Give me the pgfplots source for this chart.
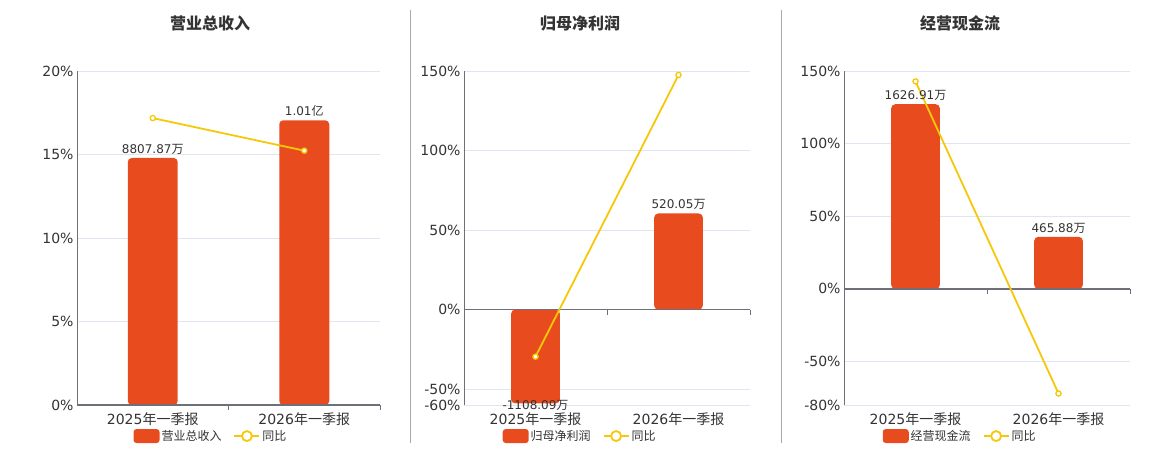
\documentclass[border=0pt]{standalone}
\usepackage{fontspec}
\setmainfont{DejaVu Sans}
\newfontfamily\cjk{Noto Sans CJK SC}
\usepackage{pgfplots}
\pgfplotsset{compat=1.18}

\definecolor{barc}{RGB}{232,76,30}
\definecolor{linec}{RGB}{245,200,10}
\definecolor{gridc}{RGB}{224,230,241}
\definecolor{axisc}{RGB}{110,112,121}
\definecolor{txt}{RGB}{51,51,51}
\definecolor{sepc}{RGB}{170,170,170}
\newcommand{\W}{{\cjk 万}}
\newcommand{\Y}{{\cjk 亿}}

\pgfplotsset{
  panel/.style={
    scale only axis, height=334bp, anchor=south west,
    xmin=-0.5, xmax=1.5, xtick={0,1},
    xticklabels={2025{\cjk 年一季报},2026{\cjk 年一季报}},
    axis x line*=bottom, axis y line*=left,
    x axis line style={draw=none},
    y axis line style={draw=axisc, line width=1bp, -},
    major tick length=0pt,
    ymajorgrids, grid style={gridc, line width=0.8bp},
    tick label style={font=\fontsize{14bp}{16bp}\selectfont, text=txt},
    xticklabel style={yshift=-4bp},
    legend style={draw=none, fill=none, legend columns=2,
      font=\fontsize{12bp}{14bp}\selectfont, text=txt,
      /tikz/every even column/.append style={column sep=10bp},
      anchor=center},
    clip=false,
  },
  barplot/.style={ybar, bar width=#1, fill=barc, draw=none, rounded corners=4bp,
    point meta=explicit symbolic, nodes near coords,
    every node near coord/.append style={font=\fontsize{12bp}{14bp}\selectfont, text=txt},
    legend image code/.code={
      \draw[fill=barc, draw=none, rounded corners=3bp] (0bp,-7bp) rectangle (26bp,7bp);}
  },
  lineplot/.style={linec, line width=1.8bp, mark=*, mark size=2.6bp,
    mark options={fill=white, draw=linec, line width=1.3bp},
    legend image code/.code={
      \draw[linec, line width=1.8bp] (0bp,0bp) -- (25bp,0bp);
      \draw[linec, fill=white, line width=1.8bp] (12.5bp,0bp) circle (5bp);}
  },
}

\begin{document}
\begin{tikzpicture}[x=1bp, y=1bp]
\path (0,0) rectangle (1160,450);

% separators
\draw[sepc, line width=1bp] (410,7) -- (410,440);
\draw[sepc, line width=1bp] (781,7) -- (781,440);

% titles
\node[font=\fontsize{16bp}{18bp}\selectfont\cjk\bfseries, text=txt] at (210,427) {营业总收入};
\node[font=\fontsize{16bp}{18bp}\selectfont\cjk\bfseries, text=txt] at (580,427) {归母净利润};
\node[font=\fontsize{16bp}{18bp}\selectfont\cjk\bfseries, text=txt] at (960,427) {经营现金流};

% panel 1
\begin{axis}[panel, at={(77bp,45bp)}, width=303bp,
  ymin=0, ymax=20, ytick={0,5,10,15,20},
  yticklabels={0\%,5\%,10\%,15\%,20\%},
  legend style={at={(0.442,-0.093)}}]
\addplot[barplot=0.33] coordinates {(0,14.79) [8807.87\W] (1,17.05) [1.01\Y]};
\addlegendentry{\cjk 营业总收入}
\draw[axisc, line width=1.5bp] (axis cs:-0.5,0) -- (axis cs:1.5,0);
\draw[axisc, line width=1bp] (axis cs:0.5,0) -- ([yshift=-5bp]axis cs:0.5,0);
\draw[axisc, line width=1bp] (axis cs:1.5,0) -- ([yshift=-5bp]axis cs:1.5,0);
\addplot[lineplot] coordinates {(0,17.18) (1,15.23)};
\addlegendentry{\cjk 同比}
\end{axis}

% panel 2
\begin{axis}[panel, at={(464bp,45bp)}, width=286bp,
  ymin=-60, ymax=150, ytick={-60,-50,0,50,100,150},
  yticklabels={-60\%,-50\%,0\%,50\%,100\%,150\%},
  legend style={at={(0.406,-0.093)}}]
\addplot[barplot=0.34] coordinates {(1,60.4) [520.05\W]};
\addlegendentry{\cjk 归母净利润}
\addplot[barplot=0.34, forget plot,
  every node near coord/.append style={anchor=north, yshift=7bp}]
  coordinates {(0,-59) [-1108.09\W]};
\draw[axisc, line width=1.5bp] (axis cs:-0.5,0) -- (axis cs:1.5,0);
\draw[axisc, line width=1bp] (axis cs:0.5,0) -- ([yshift=-5bp]axis cs:0.5,0);
\draw[axisc, line width=1bp] (axis cs:1.5,0) -- ([yshift=-5bp]axis cs:1.5,0);
\addplot[lineplot] coordinates {(0,-29.6) (1,147.5)};
\addlegendentry{\cjk 同比}
\end{axis}

% panel 3
\begin{axis}[panel, at={(844bp,45bp)}, width=286bp,
  ymin=-80, ymax=150, ytick={-80,-50,0,50,100,150},
  yticklabels={-80\%,-50\%,0\%,50\%,100\%,150\%},
  legend style={at={(0.406,-0.093)}}]
\addplot[barplot=0.34] coordinates {(0,127.1) [1626.91\W] (1,35.8) [465.88\W]};
\addlegendentry{\cjk 经营现金流}
\draw[axisc, line width=1.5bp] (axis cs:-0.5,0) -- (axis cs:1.5,0);
\draw[axisc, line width=1bp] (axis cs:0.5,0) -- ([yshift=-5bp]axis cs:0.5,0);
\draw[axisc, line width=1bp] (axis cs:1.5,0) -- ([yshift=-5bp]axis cs:1.5,0);
\addplot[lineplot] coordinates {(0,142.8) (1,-72.1)};
\addlegendentry{\cjk 同比}
\end{axis}
\end{tikzpicture}
\end{document}
